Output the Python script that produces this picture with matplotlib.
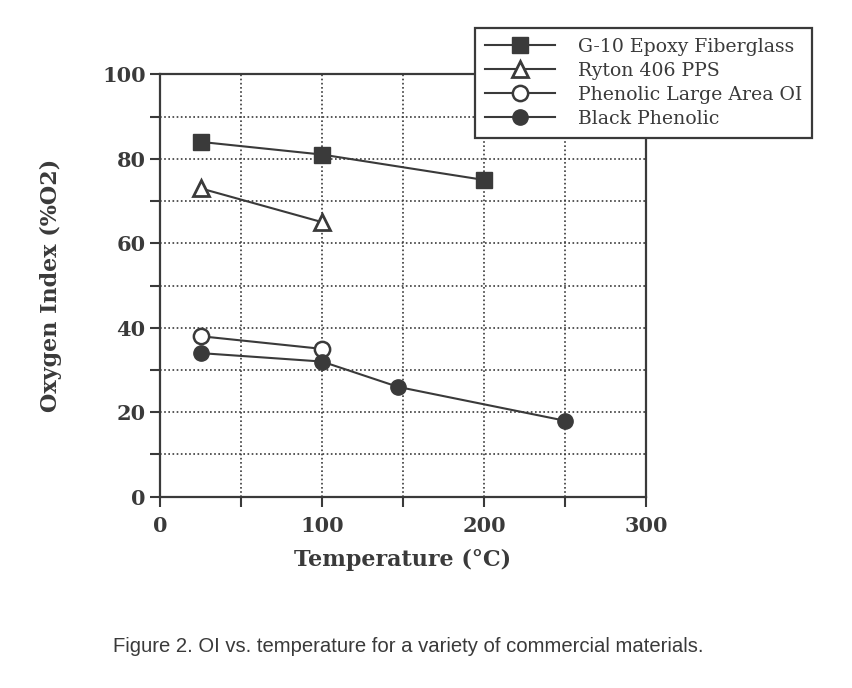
import matplotlib
matplotlib.use("Agg")
import matplotlib.pyplot as plt
from matplotlib.ticker import MultipleLocator

g10_x = [25, 100, 200]
g10_y = [84, 81, 75]
ryton_x = [25, 100]
ryton_y = [73, 65]
phen_x = [25, 100]
phen_y = [38, 35]
black_x = [25, 100, 147, 250]
black_y = [34, 32, 26, 18]

ink = "#3a3a3a"
fig = plt.figure(figsize=(8.52, 6.88), dpi=100)
ax = fig.add_axes([0.188, 0.278, 0.570, 0.614])
ax.set_xlim(0, 300)
ax.set_ylim(0, 100)

lkw = dict(color=ink, lw=1.5)
ax.plot(g10_x, g10_y, marker="s", ms=11, mfc=ink, mec=ink, label="G-10 Epoxy Fiberglass", **lkw)
ax.plot(ryton_x, ryton_y, marker="^", ms=11, mfc="white", mec=ink, mew=2, label="Ryton 406 PPS", **lkw)
ax.plot(phen_x, phen_y, marker="o", ms=11, mfc="white", mec=ink, mew=1.8, label="Phenolic Large Area OI", **lkw)
ax.plot(black_x, black_y, marker="o", ms=11, mfc=ink, mec=ink, label="Black Phenolic", **lkw)

ax.xaxis.set_major_locator(MultipleLocator(100))
ax.xaxis.set_minor_locator(MultipleLocator(50))
ax.yaxis.set_major_locator(MultipleLocator(20))
ax.yaxis.set_minor_locator(MultipleLocator(10))
ax.grid(True, which="both", ls=(0, (1, 1.5)), color=ink, lw=1.2)
ax.tick_params(which="both", direction="out", color=ink, width=1.5)
ax.tick_params(which="major", length=7)
ax.tick_params(which="minor", length=7)
for s in ax.spines.values():
    s.set_color(ink)
    s.set_linewidth(1.6)

for lab in ax.get_xticklabels() + ax.get_yticklabels():
    lab.set_fontfamily("DejaVu Serif")
    lab.set_fontweight("bold")
    lab.set_fontsize(15)
    lab.set_color(ink)
ax.tick_params(axis="x", pad=7)

ax.set_xlabel("Temperature (°C)", family="DejaVu Serif", weight="bold", fontsize=16, color=ink, labelpad=9)
ax.set_ylabel("Oxygen Index (%O2)", family="DejaVu Serif", weight="bold", fontsize=16, color=ink, labelpad=29)

leg = fig.legend(loc="upper left", bbox_to_anchor=(0.557, 0.960), frameon=True, fancybox=False,
                 framealpha=1, facecolor="white",
                 prop={"family": "DejaVu Serif", "size": 13.6}, handlelength=3.7,
                 labelspacing=0.32, borderpad=0.55, handletextpad=1.2, borderaxespad=0)
leg.get_frame().set_edgecolor(ink)
leg.get_frame().set_linewidth(1.6)
for t in leg.get_texts():
    t.set_color(ink)

fig.text(0.133, 0.052, "Figure 2. OI vs. temperature for a variety of commercial materials.",
         family="Liberation Sans", fontsize=14.6, color=ink)

fig.savefig("out.png", dpi=100, facecolor="white")
